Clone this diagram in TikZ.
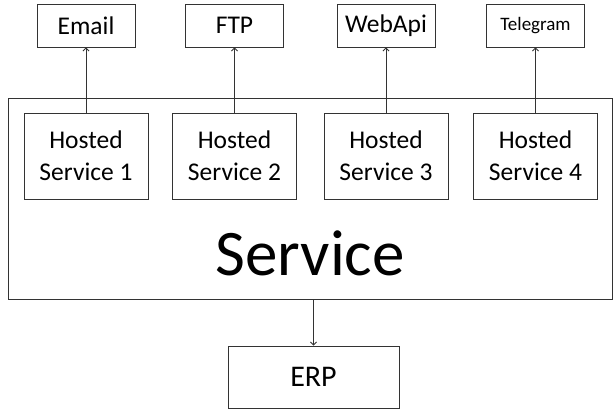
\documentclass[tikz,border=0pt]{standalone}
\usepackage{fontspec}
\setmainfont{Carlito}
\usetikzlibrary{arrows.meta}

\begin{document}
\begin{tikzpicture}[x=1pt, y=-1pt, line width=0.9pt,
        box/.style={draw=black!80, rectangle, inner sep=0pt, align=center},
        small/.style={box, minimum width=98pt, minimum height=43pt, font=\fontsize{25.5}{30}\selectfont},
        hosted/.style={box, minimum width=124pt, minimum height=86pt, font=\fontsize{25.5}{32}\selectfont},
        arr/.style={draw=black!80, -{Straight Barb[length=3pt, width=6pt]}}]
        \useasboundingbox (0,0) rectangle (616,411);

        % Service container
        \node[box, minimum width=604pt, minimum height=201pt] (service) at (310, 198.5) {};
        \node[anchor=base, inner sep=0pt, font=\fontsize{65}{70}\selectfont] (servicetext) at (310, 276) {Service};

        % Targets
        \node[small] (email) at (86, 25.5) {Email};
        \node[small] (ftp) at (234.5, 25.5) {FTP};
        \node[small] (webapi) at (386, 25.5) {WebApi};
        \node[small, font=\fontsize{19}{22}\selectfont] (telegram) at (535.5, 25.5) {Telegram};

        % Hosted services
        \node[hosted] (h1) at (86, 156) {Hosted\\Service 1};
        \node[hosted] (h2) at (234.5, 156) {Hosted\\Service 2};
        \node[hosted] (h3) at (386, 156) {Hosted\\Service 3};
        \node[hosted] (h4) at (535.5, 156) {Hosted\\Service 4};

        \node[box, minimum width=171pt, minimum height=62pt, font=\fontsize{30}{34}\selectfont] (erp) at (313.5, 377) {ERP};

        \draw[arr] (h1) -- (email);
        \draw[arr] (h2) -- (ftp);
        \draw[arr] (h3) -- (webapi);
        \draw[arr] (h4) -- (telegram);
        \draw[arr] (service.south -| erp.north) -- (erp.north);

\end{tikzpicture}
\end{document}
